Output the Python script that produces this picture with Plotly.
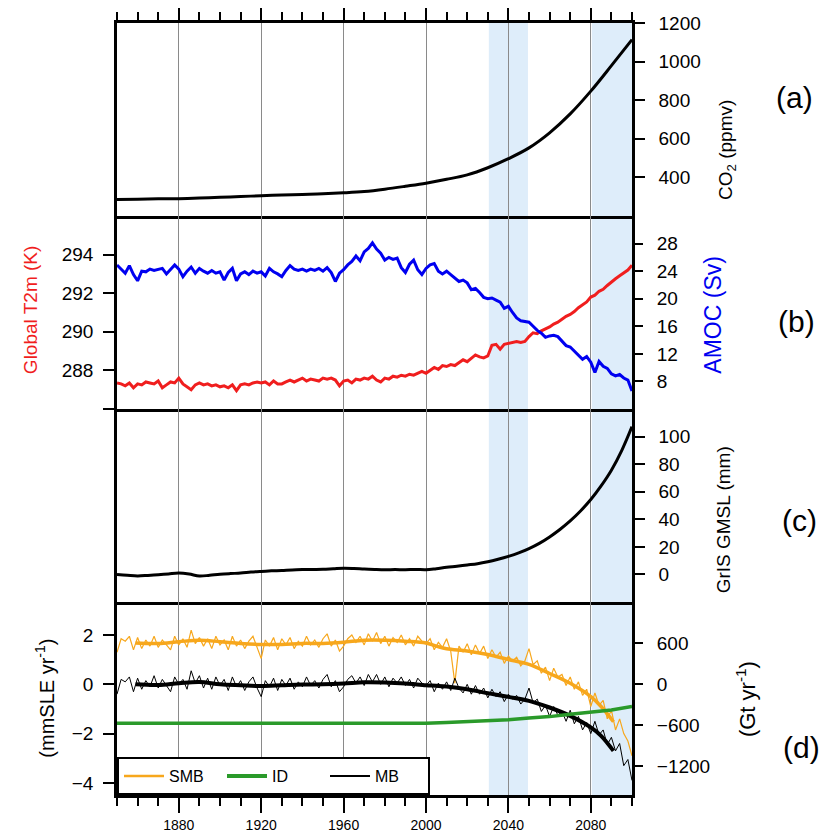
import plotly.graph_objects as go

# ---------------- data ----------------
YEARS2 = list(range(1850, 2101, 2))

CO2_YEARS = list(range(1850, 2101, 10))
CO2_PPMV = [286, 287, 289, 290, 293, 297, 301, 305, 309, 312, 315, 320, 327,
            339, 354, 370, 390, 413, 450, 497, 553, 631, 729, 847, 979, 1114]

T2M_K = [
    287.35, 287.30, 287.20, 287.35, 287.10, 287.30, 287.25, 287.40, 287.35, 287.30,
    287.45, 287.10, 287.25, 287.40, 287.35, 287.60, 287.30, 287.15, 287.00, 287.25,
    287.35, 287.25, 287.30, 287.20, 287.25, 287.15, 287.20, 287.10, 287.25, 286.95,
    287.25, 287.30, 287.25, 287.35, 287.40, 287.35, 287.40, 287.25, 287.45, 287.30,
    287.30, 287.40, 287.50, 287.40, 287.50, 287.60, 287.45, 287.55, 287.50, 287.45,
    287.60, 287.55, 287.60, 287.50, 287.20, 287.45, 287.50, 287.35, 287.55, 287.50,
    287.60, 287.55, 287.70, 287.50, 287.40, 287.60, 287.55, 287.70, 287.65, 287.75,
    287.70, 287.80, 287.75, 287.85, 287.95, 287.85, 288.00, 288.15, 288.05, 288.25,
    288.20, 288.30, 288.25, 288.40, 288.55, 288.45, 288.65, 288.80, 288.70, 288.65,
    288.75, 289.30, 289.35, 289.10, 289.35, 289.40, 289.45, 289.50, 289.45, 289.50,
    289.75, 289.95, 289.90, 290.05, 290.15, 290.25, 290.40, 290.50, 290.65, 290.80,
    290.90, 291.05, 291.25, 291.40, 291.55, 291.80, 291.90, 292.10, 292.20, 292.40,
    292.60, 292.75, 292.90, 293.05, 293.20, 293.45]

AMOC_SV = [
    24.9, 24.3, 23.7, 24.8, 23.5, 22.6, 24.0, 23.9, 24.3, 24.1,
    24.2, 24.4, 23.6, 24.3, 24.9, 24.3, 23.2, 24.0, 24.6, 23.7,
    24.4, 24.0, 23.7, 24.1, 23.7, 23.9, 22.7, 23.8, 24.4, 22.6,
    23.6, 23.9, 23.5, 24.0, 23.7, 23.9, 23.3, 24.4, 23.9, 23.6,
    23.2, 24.1, 24.8, 24.3, 24.1, 24.3, 24.0, 24.3, 24.1, 24.4,
    24.0, 24.5, 23.8, 22.5, 23.7, 24.2, 24.9, 25.4, 26.2, 25.5,
    26.8, 27.3, 28.1, 27.2, 26.6, 25.6, 26.0, 25.7, 25.9, 24.5,
    23.8, 25.0, 25.6, 24.2, 23.5, 24.4, 24.9, 25.1, 24.0, 23.6,
    24.0, 23.5, 23.0, 22.5, 22.7, 22.3, 21.3, 21.5, 20.9, 20.2,
    20.0, 20.1, 19.8, 19.5, 18.6, 18.9, 18.0, 17.2, 16.8, 16.7,
    16.6, 16.0, 15.4, 15.0, 14.4, 14.6, 14.7, 14.5, 13.8, 13.2,
    13.0, 12.4, 11.8, 11.2, 11.6, 10.8, 9.3, 10.9, 10.2, 9.9,
    9.1, 8.8, 9.0, 8.5, 8.2, 6.6]

GMSL_YEARS = list(range(1850, 2101, 5))
GMSL_MM = [0.0, -0.6, -1.1, -0.7, -0.2, 0.4, 1.0, 0.3, -1.2, -0.6,
           0.1, 0.6, 1.0, 1.7, 2.2, 2.6, 2.9, 3.3, 3.5, 3.6,
           3.7, 4.1, 4.5, 4.3, 3.9, 3.6, 3.4, 3.5, 3.4, 3.6,
           3.4, 4.2, 5.2, 6.0, 6.9, 7.8, 9.2, 11.0, 13.1, 15.6,
           18.7, 22.5, 27.2, 32.6, 38.8, 46.0, 54.3, 64.2, 75.6, 89.8,
           107.2]

SMB_ANNUAL = [
    1.30, 1.85, 1.75, 1.95, 1.40, 1.90, 1.45, 1.80, 1.55, 1.95,
    1.50, 1.80, 1.60, 1.40, 1.95, 1.60, 1.85, 1.50, 2.20, 1.65,
    1.90, 1.55, 1.85, 1.45, 1.95, 1.60, 1.80, 1.40, 1.95, 1.55,
    1.80, 1.45, 1.75, 1.95, 1.50, 1.05, 1.80, 1.55, 1.90, 1.40,
    1.85, 1.60, 1.90, 1.45, 1.75, 1.55, 1.95, 1.60, 1.80, 1.50,
    1.85, 2.05, 1.55, 1.80, 1.35, 1.55, 1.85, 2.00, 1.70, 1.95,
    1.60, 2.05, 1.75, 2.10, 1.65, 1.95, 1.55, 1.90, 1.70, 2.00,
    1.60, 1.85, 1.55, 1.95, 1.75, 1.65, 1.85, 1.40, 1.70, 1.50,
    1.85, 1.35, 0.05, 1.55, 1.30, 1.65, 1.20, 1.60, 1.25, 1.55,
    1.05, 1.40, 1.10, 1.30, 0.85, 1.15, 0.95, 1.10, 0.75, 0.95,
    1.45, 0.80, 0.95, 0.45, 0.70, 0.15, 0.65, 0.30, 0.40, -0.05,
    0.30, -0.20, 0.10, -0.45, -0.20, -0.90, -0.35, -0.85, -0.65, -1.40,
    -1.05, -1.85, -1.40, -2.00, -2.30, -2.90]

MB_ANNUAL = [
    -0.40, 0.20, 0.10, 0.30, -0.30, 0.25, -0.20, 0.15, -0.10, 0.35,
    -0.15, 0.20, -0.05, -0.30, 0.30, 0.00, 0.20, -0.20, 0.55, 0.05,
    0.35, -0.15, 0.25, -0.20, 0.30, -0.05, 0.20, -0.25, 0.30, -0.10,
    0.15, -0.25, 0.10, 0.30, -0.15, -0.50, 0.15, -0.10, 0.25, -0.25,
    0.20, -0.05, 0.25, -0.20, 0.10, -0.10, 0.30, -0.05, 0.15, -0.15,
    0.20, 0.40, -0.10, 0.15, -0.30, -0.10, 0.20, 0.35, 0.05, 0.30,
    -0.05, 0.40, 0.10, 0.40, 0.00, 0.30, -0.10, 0.25, 0.05, 0.30,
    -0.05, 0.20, -0.15, 0.25, 0.05, -0.05, 0.15, -0.30, 0.05, -0.20,
    0.10, -0.25, 0.25, -0.15, -0.35, 0.00, -0.40, -0.05, -0.40, -0.15,
    -0.55, -0.20, -0.50, -0.30, -0.70, -0.40, -0.60, -0.45, -0.80, -0.60,
    -0.15, -0.75, -0.60, -1.10, -0.85, -1.30, -0.90, -1.25, -1.10, -1.50,
    -1.05, -1.60, -1.30, -1.85, -1.55, -2.00, -1.50, -2.05, -1.85, -2.45,
    -2.15, -2.70, -2.40, -3.30, -3.05, -3.90]

SMOOTH_YEARS = [1859, 1870, 1880, 1890, 1900, 1910, 1920, 1930, 1940, 1950, 1960,
                1970, 1980, 1990, 2000, 2005, 2010, 2020, 2030, 2040, 2050, 2060,
                2070, 2080, 2085, 2091]
SMB_SMOOTH = [1.68, 1.66, 1.73, 1.79, 1.73, 1.66, 1.62, 1.62, 1.66, 1.66, 1.71,
              1.79, 1.79, 1.75, 1.68, 1.55, 1.44, 1.35, 1.21, 1.01, 0.81, 0.44,
              0.04, -0.50, -0.90, -1.52]
MB_SMOOTH = [0.00, -0.03, 0.04, 0.09, 0.00, -0.04, -0.07, -0.04, -0.01, 0.00, 0.03,
             0.08, 0.07, 0.03, -0.04, -0.06, -0.09, -0.20, -0.36, -0.51, -0.67, -0.94,
             -1.28, -1.75, -2.09, -2.70]

ID_YEARS = [1850, 1900, 1950, 2000, 2010, 2020, 2030, 2040, 2050, 2060, 2070, 2080, 2090, 2100]
ID_MM = [-1.58, -1.59, -1.58, -1.58, -1.55, -1.52, -1.50, -1.44, -1.37, -1.31,
         -1.21, -1.12, -1.04, -0.90]

SHADE_PERIODS = [(2030.5, 2049.5), (2080.5, 2100)]
MAJOR_YEARS = [1880, 1920, 1960, 2000, 2040, 2080]
GT_PER_MM = 360.0

# ---------------- styles ----------------
FONT = "Liberation Sans, Arial, Helvetica, sans-serif"
ORANGE = "#f7a71c"
GREEN = "#2a9a2a"
RED = "#f01e1e"
BLUE = "#0000f0"
SHADE = "#deedfa"
TICKFONT = dict(family=FONT, size=19, color="black")
LW = 2.5

fig = go.Figure()

# panel a
fig.add_trace(go.Scatter(x=CO2_YEARS, y=CO2_PPMV, mode="lines", line=dict(color="black", width=3, shape="spline"),
                         xaxis="x", yaxis="y", showlegend=False))
# panel b
fig.add_trace(go.Scatter(x=YEARS2, y=T2M_K, mode="lines", line=dict(color=RED, width=3),
                         xaxis="x2", yaxis="y2", showlegend=False))
fig.add_trace(go.Scatter(x=YEARS2, y=AMOC_SV, mode="lines", line=dict(color=BLUE, width=3),
                         xaxis="x2", yaxis="y5", showlegend=False))
# panel c
fig.add_trace(go.Scatter(x=GMSL_YEARS, y=GMSL_MM, mode="lines", line=dict(color="black", width=3, shape="spline"),
                         xaxis="x3", yaxis="y3", showlegend=False))
# panel d
fig.add_trace(go.Scatter(x=YEARS2, y=SMB_ANNUAL, mode="lines", line=dict(color=ORANGE, width=1.2),
                         xaxis="x4", yaxis="y4", showlegend=False))
fig.add_trace(go.Scatter(x=YEARS2, y=MB_ANNUAL, mode="lines", line=dict(color="black", width=1),
                         xaxis="x4", yaxis="y4", showlegend=False))
fig.add_trace(go.Scatter(x=SMOOTH_YEARS, y=SMB_SMOOTH, mode="lines", line=dict(color=ORANGE, width=3.5, shape="spline"),
                         xaxis="x4", yaxis="y4", showlegend=False))
fig.add_trace(go.Scatter(x=SMOOTH_YEARS, y=MB_SMOOTH, mode="lines", line=dict(color="black", width=4, shape="spline"),
                         xaxis="x4", yaxis="y4", showlegend=False))
fig.add_trace(go.Scatter(x=ID_YEARS, y=ID_MM, mode="lines", line=dict(color=GREEN, width=3.5),
                         xaxis="x4", yaxis="y4", showlegend=False))
# right axis (Gt/yr) carrier
fig.add_trace(go.Scatter(x=[None], y=[None], mode="lines", xaxis="x4", yaxis="y6", showlegend=False,
                         hoverinfo="skip"))
# legend entries
for name, col, w in [("SMB", ORANGE, 2.5), ("ID", GREEN, 4), ("MB", "black", 2)]:
    fig.add_trace(go.Scatter(x=[None], y=[None], mode="lines", name=name, line=dict(color=col, width=w),
                             xaxis="x4", yaxis="y4", showlegend=True))

# ---------------- axes ----------------
xcommon = dict(range=[1850, 2100], showgrid=True, gridcolor="#8a8a8a", gridwidth=1,
               tickmode="array", tickvals=MAJOR_YEARS, showline=True, linecolor="black",
               linewidth=LW, zeroline=False, tickcolor="black", automargin=False)
minor_ticks = dict(tick0=1850, dtick=10, ticks="outside", ticklen=8, tickwidth=1.5,
                   tickcolor="black", showgrid=False)
ycommon = dict(ticks="outside", tickwidth=2, tickcolor="black", tickfont=TICKFONT,
               showgrid=False, zeroline=False, automargin=False)

fig.update_layout(
    template="none",
    xaxis=dict(**xcommon, anchor="y", side="top", mirror=True, ticks="outside", ticklen=16,
               tickwidth=2, showticklabels=False, minor=minor_ticks),
    xaxis2=dict(**xcommon, anchor="y2", side="bottom", ticks="", showticklabels=False),
    xaxis3=dict(**xcommon, anchor="y3", side="bottom", ticks="", showticklabels=False),
    xaxis4=dict(**xcommon, anchor="y4", side="bottom", ticks="outside", ticklen=15, tickwidth=2,
                showticklabels=True, tickfont=dict(family=FONT, size=14, color="black"),
                ticklabelstandoff=0, minor=dict(minor_ticks, ticklen=8)),
    yaxis=dict(**ycommon, domain=[0.75, 1], anchor="x", side="right", range=[200, 1200],
               tickvals=[400, 600, 800, 1000, 1200], ticklen=10, ticklabelstandoff=10,
               showline=True, linecolor="black", linewidth=LW, mirror=True),
    yaxis2=dict(**ycommon, domain=[0.5, 0.75], anchor="x2", side="left", range=[286, 296],
                tickvals=[288, 290, 292, 294], ticklen=11, ticklabelstandoff=6,
                minor=dict(tickvals=[286], ticks="outside", ticklen=11, tickwidth=2,
                           tickcolor="black", showgrid=False),
                showline=True, linecolor="black", linewidth=LW, mirror=True),
    yaxis5=dict(**ycommon, overlaying="y2", anchor="x2", side="right", range=[4, 32],
                tickvals=[8, 12, 16, 20, 24, 28], ticklen=10, ticklabelstandoff=10, showline=False),
    yaxis3=dict(**ycommon, domain=[0.25, 0.5], anchor="x3", side="right", range=[-20, 120],
                tickvals=[0, 20, 40, 60, 80, 100], ticklen=10, ticklabelstandoff=10,
                showline=True, linecolor="black", linewidth=LW, mirror=True),
    yaxis4=dict(**ycommon, domain=[0, 0.25], anchor="x4", side="left", range=[-4.49, 3.34],
                tickvals=[-4, -2, 0, 2], ticklen=11, ticklabelstandoff=6,
                showline=True, linecolor="black", linewidth=LW, mirror=True),
    yaxis6=dict(**ycommon, overlaying="y4", anchor="x4", side="right",
                range=[-4.49 * GT_PER_MM, 3.34 * GT_PER_MM],
                tickvals=[-1200, -600, 0, 600], ticklen=10, ticklabelstandoff=10, showline=False),
)

# shading
for ax in ["", "2", "3", "4"]:
    for x0, x1 in SHADE_PERIODS:
        fig.add_shape(type="rect", xref="x" + ax, yref=("y" + ax) + " domain", x0=x0, x1=x1, y0=0, y1=1,
                      fillcolor=SHADE, line=dict(width=0), layer="below")

# annotations (titles, panel labels)
def ann(text, x, y, size, color="black", angle=-90):
    fig.add_annotation(text=text, xref="paper", yref="paper", x=x, y=y, showarrow=False,
                       textangle=angle, font=dict(family=FONT, size=size, color=color),
                       xanchor="center", yanchor="middle")

ann("CO<sub>2</sub> (ppmv)", 1.1845, 0.8355, 19)
ann("Global T2m (K)", -0.169, 0.628, 19, RED)
ann("AMOC (Sv)", 1.157, 0.622, 23, BLUE)
ann("GrIS GMSL (mm)", 1.177, 0.356, 19)
ann("(mmSLE yr<sup>-1</sup>)", -0.140, 0.126, 20)
ann("(Gt yr<sup>-1</sup>)", 1.221, 0.124, 22)
ann("(a)", 1.3165, 0.904, 30, angle=0)
ann("(b)", 1.320, 0.613, 30, angle=0)
ann("(c)", 1.326, 0.356, 30, angle=0)
ann("(d)", 1.330, 0.062, 30, angle=0)

# the page body adds an 8px offset: figure is sized/margined so the plot area
# lands at x 117..632, y 23..795 in the 836x835 window
fig.update_layout(
    width=828, height=827,
    margin=dict(l=109, r=204, t=15, b=40, autoexpand=False),
    paper_bgcolor="white", plot_bgcolor="rgba(0,0,0,0)",
    font=dict(family=FONT, size=16, color="black"),
    legend=dict(orientation="h", x=0, y=0, xanchor="left", yanchor="bottom",
                bgcolor="white", bordercolor="black", borderwidth=2,
                font=dict(family=FONT, size=16, color="black"),
                entrywidth=48, entrywidthmode="pixels", itemwidth=40,
                tracegroupgap=0),
)

fig.write_html("out.html")
